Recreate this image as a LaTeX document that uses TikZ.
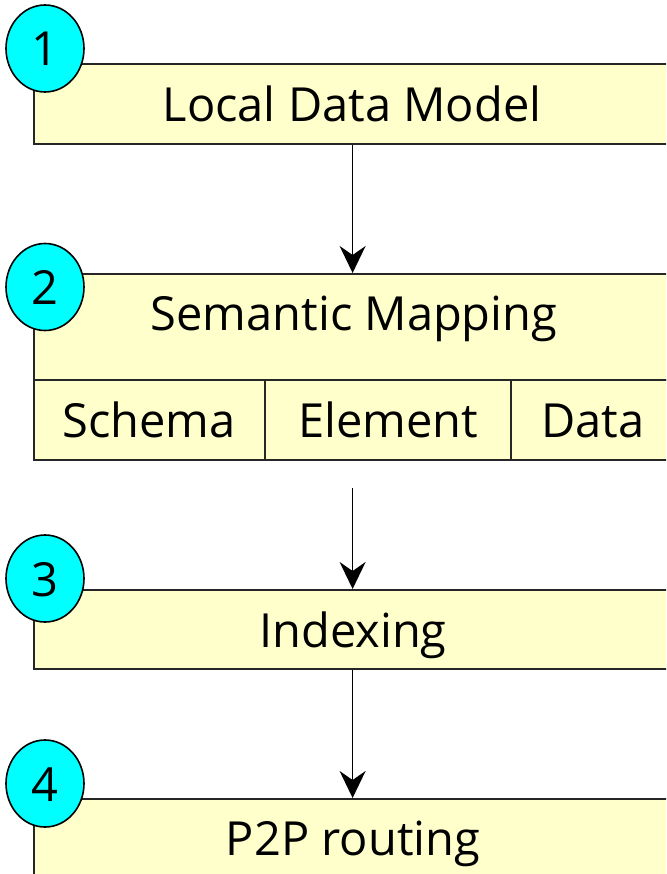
\documentclass[tikz,border=0pt]{standalone}
\usepackage{fontspec}
\setmainfont{Open Sans}
\usetikzlibrary{shapes.geometric,arrows.meta}
\definecolor{boxfill}{HTML}{FFFFCC}
\definecolor{badge}{HTML}{00FFFF}
\tikzset{
  layerbox/.style={draw=black!85, line width=1.6pt, fill=boxfill, rectangle, inner sep=0pt, anchor=north west},
  lbl/.style={font=\fontsize{47}{50}\selectfont, anchor=base, inner sep=0pt},
  numbadge/.style={ellipse, draw=black, line width=1.6pt, fill=badge, minimum width=78pt, minimum height=87pt, inner sep=0pt},
  numtxt/.style={font=\fontsize{47}{50}\selectfont, anchor=base, inner sep=0pt},
  flow/.style={line width=1.6pt, -{Stealth[length=27pt, width=26pt, inset=9pt]}}
}
\begin{document}
\begin{tikzpicture}[x=1pt,y=-1pt]
\useasboundingbox (0,0) rectangle (666,874);
\clip (0,0) rectangle (666,874);

% layer boxes (they run past the right edge)
\node[layerbox, minimum width=680pt, minimum height=80pt] (b1) at (33,63) {};
\node[layerbox, minimum width=680pt, minimum height=106pt] (b2) at (33,273) {};
\node[layerbox, minimum width=231pt, minimum height=80pt] (c1) at (33,379) {};
\node[layerbox, minimum width=246pt, minimum height=80pt] (c2) at (264,379) {};
\node[layerbox, minimum width=200pt, minimum height=80pt] (c3) at (510,379) {};
\node[layerbox, minimum width=680pt, minimum height=79pt] (b3) at (33,589) {};
\node[layerbox, minimum width=680pt, minimum height=100pt] (b4) at (33,798) {};

% labels
\node[lbl] (t1) at (352,122) {Local Data Model};
\node[lbl] (t2) at (354,330) {Semantic Mapping};
\node[lbl] (s1) at (149,437) {Schema};
\node[lbl] (s2) at (388,437) {Element};
\node[lbl] (s3) at (593,437) {Data};
\node[lbl] (t3) at (353,647) {Indexing};
\node[lbl] (t4) at (353,855) {P2P routing};

% numbered badges
\node[numbadge] (n1) at (45,48.5) {};
\node[numbadge] (n2) at (45,287) {};
\node[numbadge] (n3) at (45,578.5) {};
\node[numbadge] (n4) at (45,783.5) {};
\node[numtxt] (d1) at (45,66) {1};
\node[numtxt] (d2) at (45,304.5) {2};
\node[numtxt] (d3) at (45,596) {3};
\node[numtxt] (d4) at (45,801) {4};

% flow arrows
\coordinate (axis) at (352.6,0);
\coordinate (m2) at (352.6,488);
\draw[flow] (b1.south -| axis) -- (b2.north -| axis);
\draw[flow] (m2) -- (b3.north -| axis);
\draw[flow] (b3.south -| axis) -- (b4.north -| axis);
\end{tikzpicture}
\end{document}
